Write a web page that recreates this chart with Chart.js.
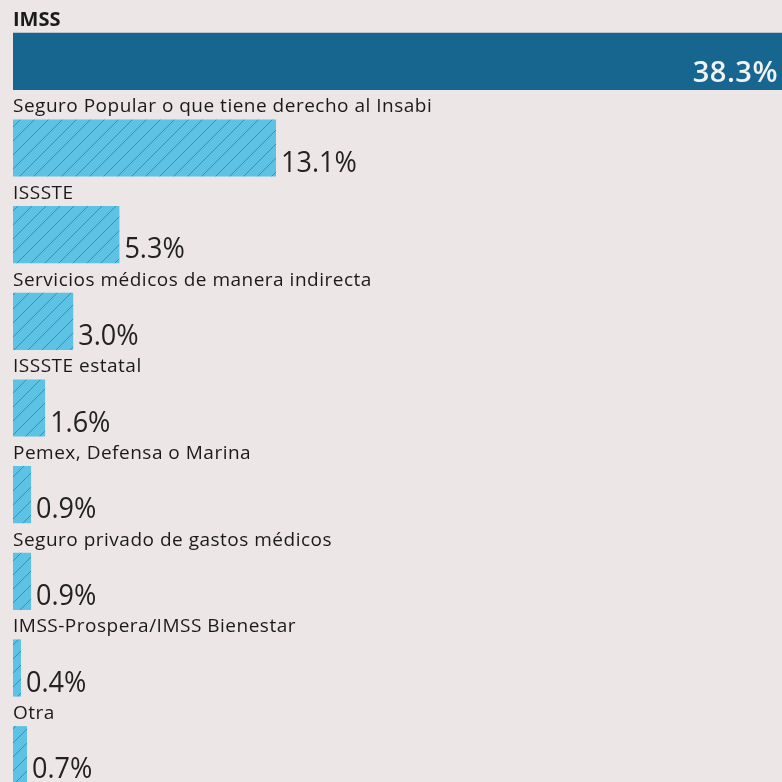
<!DOCTYPE html>
<html>
<head>
<meta charset="utf-8">
<script src="https://cdn.jsdelivr.net/npm/chart.js@4"></script>
<style>
  html, body { margin: 0; padding: 0; overflow: hidden; background: #ede6e6; }
  #wrap { width: 782px; height: 782px; overflow: hidden; }
  canvas { display: block; }
</style>
</head>
<body>
<div id="wrap"><canvas id="c" width="782" height="800"></canvas></div>
<script>
const categories = [
  "IMSS",
  "Seguro Popular o que tiene derecho al Insabi",
  "ISSSTE",
  "Servicios médicos de manera indirecta",
  "ISSSTE estatal",
  "Pemex, Defensa o Marina",
  "Seguro privado de gastos médicos",
  "IMSS-Prospera/IMSS Bienestar",
  "Otra"
];
const values = [38.3, 13.1, 5.3, 3.0, 1.6, 0.9, 0.9, 0.4, 0.7];
const valueLabels = ["38.3%", "13.1%", "5.3%", "3.0%", "1.6%", "0.9%", "0.9%", "0.4%", "0.7%"];

const DARK = "#17668f";
const LIGHT = "#5ec2e5";

function hatchPattern() {
  const s = 14;
  const c = document.createElement("canvas");
  c.width = s; c.height = s;
  const g = c.getContext("2d");
  g.fillStyle = LIGHT;
  g.fillRect(0, 0, s, s);
  g.strokeStyle = "rgba(45,95,125,0.55)";
  g.lineWidth = 1;
  g.beginPath();
  g.moveTo(-1, s + 1); g.lineTo(s + 1, -1);
  g.moveTo(-1, 1); g.lineTo(1, -1);
  g.moveTo(s - 1, s + 1); g.lineTo(s + 1, s - 1);
  g.stroke();
  return document.getElementById("c").getContext("2d").createPattern(c, "repeat");
}
const hatch = hatchPattern();
const colors = values.map((v, i) => i === 0 ? DARK : hatch);

const labelPlugin = {
  id: "labels",
  afterDatasetsDraw(chart) {
    const ctx = chart.ctx;
    const meta = chart.getDatasetMeta(0);
    ctx.save();
    meta.data.forEach((bar, i) => {
      const top = bar.y - bar.height / 2;
      const bottom = bar.y + bar.height / 2;
      // category label above the bar
      ctx.fillStyle = "#1a1a1a";
      ctx.textAlign = "left";
      ctx.textBaseline = "alphabetic";
      if (i === 0) {
        ctx.font = "bold 20px 'Open Sans'";
        ctx.letterSpacing = "0px";
      } else {
        ctx.font = "19px 'Open Sans'";
        ctx.letterSpacing = "0.5px";
      }
      ctx.fillText(categories[i], chart.chartArea.left, top - 7);
      // value label
      if (i === 0) {
        ctx.fillStyle = "#f2f2f2";
        ctx.font = "600 29px 'Open Sans'";
        ctx.letterSpacing = "0.5px";
        ctx.textAlign = "right";
        ctx.fillText(valueLabels[i], bar.x - 4, bottom - 8);
      } else {
        ctx.fillStyle = "#222";
        ctx.font = "400 30px 'Open Sans'";
        ctx.letterSpacing = "0px";
        ctx.textAlign = "left";
        ctx.save();
        ctx.translate(bar.x + 5, bottom - 5);
        ctx.scale(0.9, 1);
        ctx.fillText(valueLabels[i], 0, 0);
        ctx.restore();
      }
    });
    ctx.restore();
  }
};

new Chart(document.getElementById("c"), {
  type: "bar",
  data: {
    labels: categories,
    datasets: [{
      data: values,
      backgroundColor: colors,
      borderWidth: 0,
      barPercentage: 0.66,
      categoryPercentage: 1.0
    }]
  },
  options: {
    indexAxis: "y",
    responsive: false,
    animation: false,
    devicePixelRatio: 1,
    layout: { padding: { left: 13, right: 0, top: 18, bottom: 2 } },
    plugins: { legend: { display: false }, tooltip: { enabled: false } },
    scales: {
      x: { display: false, min: 0, max: 38.3 },
      y: { display: false }
    }
  },
  plugins: [labelPlugin]
});
</script>
</body>
</html>
